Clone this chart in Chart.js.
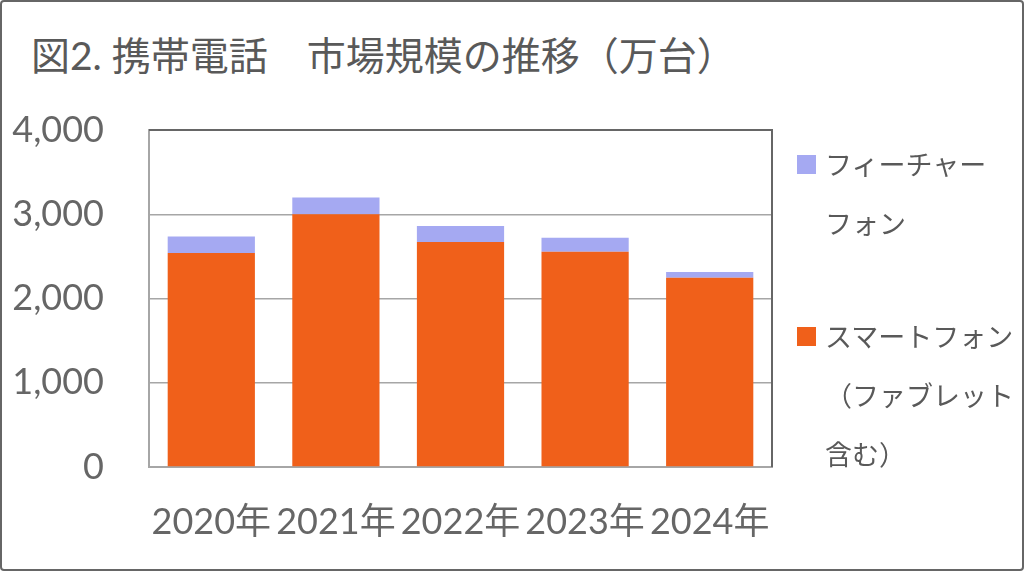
<!DOCTYPE html>
<html>
<head>
<meta charset="utf-8">
<script src="https://cdn.jsdelivr.net/npm/chart.js@4/dist/chart.umd.min.js"></script>
<style>
  html, body { margin:0; padding:0; background:#fff; }
  #box {
    position:relative; width:1024px; height:571px; box-sizing:border-box;
    border:2px solid #666; border-radius:4px; overflow:hidden;
    font-family: Lato, "Noto Sans CJK JP", sans-serif; color:#595959;
  }
  #title { position:absolute; left:29px; top:29px; font-size:39px; line-height:48px; white-space:pre; }
  #chart { position:absolute; left:-2px; top:-2px; }
  #legend { position:absolute; left:795px; top:133px; font-size:27px; line-height:59px; }
  .item { position:relative; padding-left:28px; }
  .item + .item { margin-top:54px; }
  .sw { position:absolute; left:0; top:20px; width:19px; height:19px; }
</style>
</head>
<body>
<div id="box">
  <div id="title">図2. 携帯電話　市場規模の推移（万台）</div>
  <canvas id="chart" width="1024" height="571"></canvas>
  <div id="legend"></div>
</div>
<script>
// ── DATA ───────────────────────────────────────────────
const years        = ["2020年", "2021年", "2022年", "2023年", "2024年"];
const smartphone   = [2540, 3000, 2670, 2555, 2245];
const featurePhone = [195, 200, 190, 165, 70];
const yTicks       = [0, 1000, 2000, 3000, 4000];

const seriesNames  = ["スマートフォン（ファブレット含む）", "フィーチャーフォン"];
const legendLines  = [["フィーチャー", "フォン"], ["スマートフォン", "（ファブレット", "含む）"]];

// ── STYLE ──────────────────────────────────────────────
const ORANGE = "#F0601A";
const LILAC  = "#A5A9F2";
const TXT    = "#666";
const FONT   = "Lato, 'Noto Sans CJK JP'";

// frame on top/right of plot area
const frame = {
  id: "frame",
  afterDatasetsDraw(chart) {
    const { ctx, chartArea: a } = chart;
    ctx.save();
    ctx.strokeStyle = "#666";
    ctx.lineWidth = 2;
    ctx.beginPath();
    ctx.moveTo(a.left, a.top);
    ctx.lineTo(a.right, a.top);
    ctx.lineTo(a.right, a.bottom);
    ctx.stroke();
    ctx.restore();
  }
};

new Chart(document.getElementById("chart"), {
  type: "bar",
  data: {
    labels: years,
    datasets: [
      { label: seriesNames[0], data: smartphone,   backgroundColor: ORANGE },
      { label: seriesNames[1], data: featurePhone, backgroundColor: LILAC }
    ]
  },
  options: {
    responsive: false,
    animation: false,
    layout: { padding: { left: 0, right: 252, top: 130, bottom: 27 } },
    plugins: { legend: { display: false }, tooltip: { enabled: false } },
    datasets: { bar: { categoryPercentage: 1, barPercentage: 0.7 } },
    scales: {
      x: {
        stacked: true,
        afterFit(s) { s.height = 77; },   // chart.js counts padding twice
        grid: { display: false, drawTicks: false },
        border: { color: "#a6a6a6", width: 2 },
        ticks: { color: TXT, padding: 34, maxRotation: 0, minRotation: 0, autoSkip: false,
                 font: { family: FONT, size: 36 } }
      },
      y: {
        stacked: true,
        min: 0, max: 4000,
        afterFit(s) { s.width = 149; },
        afterBuildTicks(s) { s.ticks = yTicks.map(v => ({ value: v })); },
        grid: { color: "#a6a6a6", lineWidth: 1.5, drawTicks: false },
        border: { color: "#a6a6a6", width: 2 },
        ticks: {
          color: TXT, padding: 45,
          font: { family: FONT, size: 36 },
          callback: v => v.toLocaleString("en-US")
        }
      }
    }
  },
  plugins: [frame]
});

// HTML legend (multi-line labels)
const colors = [LILAC, ORANGE];
document.getElementById("legend").innerHTML = legendLines.map((lines, i) =>
  `<div class="item"><span class="sw" style="background:${colors[i]}"></span>${lines.join("<br>")}</div>`
).join("");
</script>
</body>
</html>
